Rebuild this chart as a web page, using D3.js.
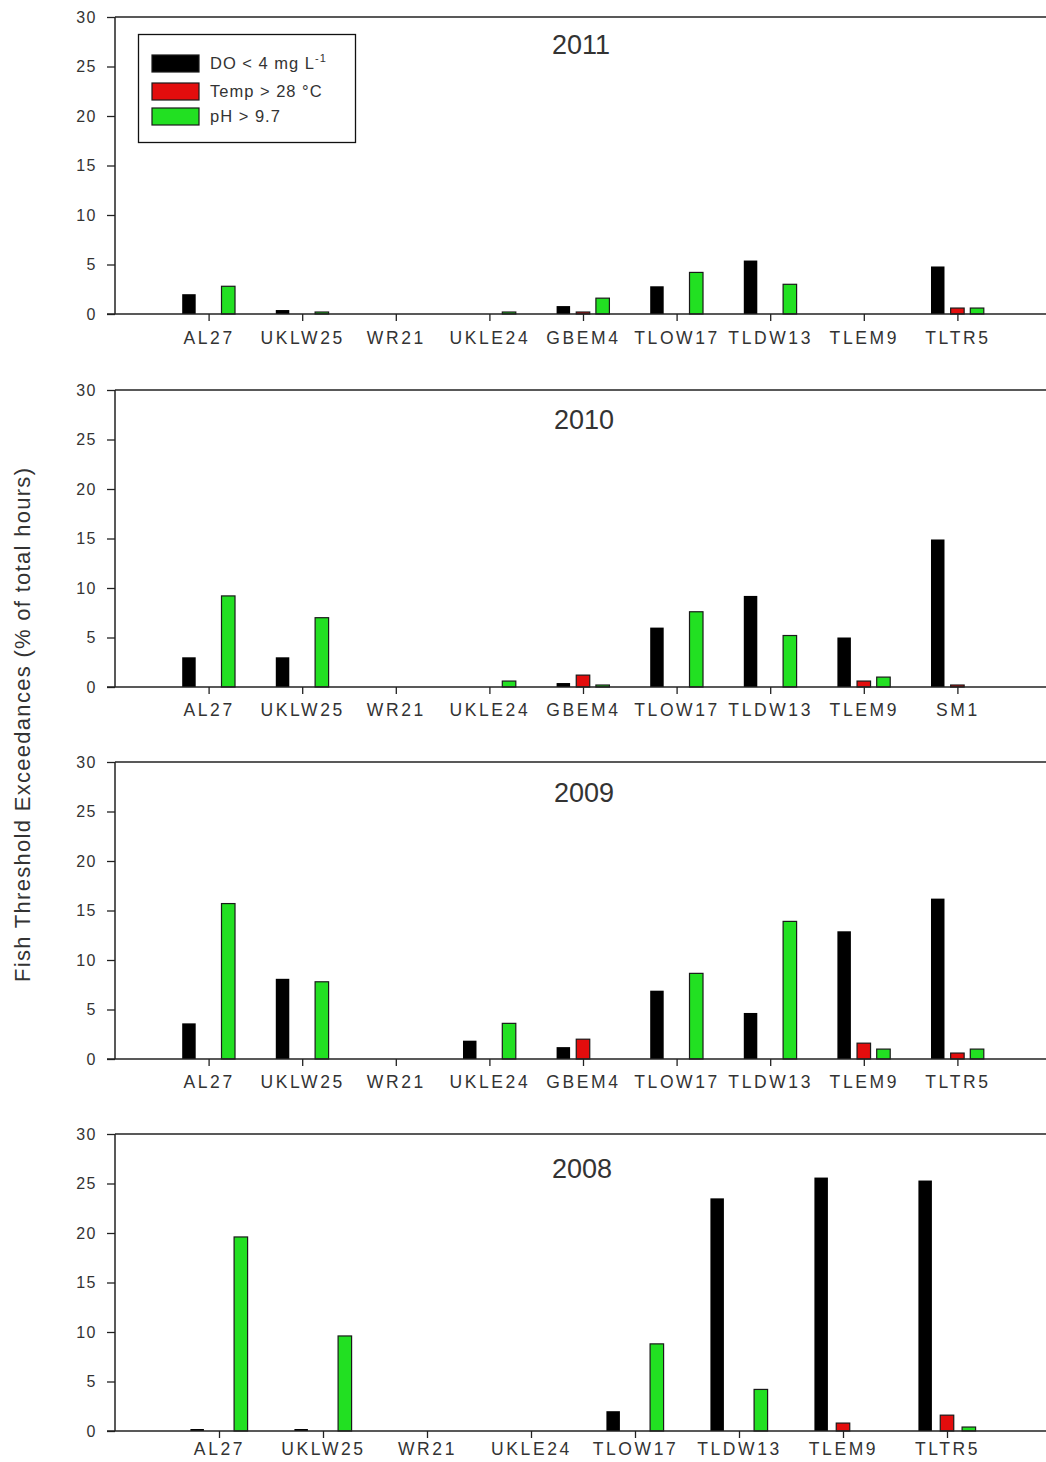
<!DOCTYPE html>
<html>
<head>
<meta charset="utf-8">
<script src="https://cdn.jsdelivr.net/npm/d3@7"></script>
<style>
body { margin: 0; background: #fff; }
text { font-family: Arial, "Liberation Sans", sans-serif; fill: #333; }
</style>
</head>
<body>
<script>
// Jahre (ein Panel pro Jahr)
var years = ["2011", "2010", "2009", "2008"];

// Messstellen pro Jahr
var sites2011 = ["AL27", "UKLW25", "WR21", "UKLE24", "GBEM4", "TLOW17", "TLDW13", "TLEM9", "TLTR5"];
var sites2010 = ["AL27", "UKLW25", "WR21", "UKLE24", "GBEM4", "TLOW17", "TLDW13", "TLEM9", "SM1"];
var sites2009 = ["AL27", "UKLW25", "WR21", "UKLE24", "GBEM4", "TLOW17", "TLDW13", "TLEM9", "TLTR5"];
var sites2008 = ["AL27", "UKLW25", "WR21", "UKLE24", "TLOW17", "TLDW13", "TLEM9", "TLTR5"];

// Werte (% der Stunden)
var do2011   = [2.0, 0.4, 0, 0, 0.8, 2.8, 5.4, 0, 4.8];
var temp2011 = [0, 0, 0, 0, 0.2, 0, 0, 0, 0.6];
var ph2011   = [2.8, 0.2, 0, 0.2, 1.6, 4.2, 3.0, 0, 0.6];

var do2010   = [3.0, 3.0, 0, 0, 0.4, 6.0, 9.2, 5.0, 14.9];
var temp2010 = [0, 0, 0, 0, 1.2, 0, 0, 0.6, 0.2];
var ph2010   = [9.2, 7.0, 0, 0.6, 0.2, 7.6, 5.2, 1.0, 0];

var do2009   = [3.6, 8.1, 0, 1.85, 1.2, 6.9, 4.65, 12.9, 16.2];
var temp2009 = [0, 0, 0, 0, 2.0, 0, 0, 1.6, 0.6];
var ph2009   = [15.7, 7.8, 0, 3.6, 0, 8.65, 13.9, 1.0, 1.0];

var do2008   = [0.2, 0.2, 0, 0, 2.0, 23.5, 25.6, 25.3];
var temp2008 = [0, 0, 0, 0, 0, 0, 0.8, 1.6];
var ph2008   = [19.6, 9.6, 0, 0, 8.8, 4.2, 0, 0.4];

var yTicks = [0, 5, 10, 15, 20, 25, 30];
var seriesKeys = ["do", "temp", "ph"];
var seriesLabels = ["DO < 4 mg L", "Temp > 28 \u00B0C", "pH > 9.7"];
var seriesColors = {do: "#000000", temp: "#e30d0d", ph: "#22e022"};

var panels = [
  {year: years[0], sites: sites2011, do: do2011, temp: temp2011, ph: ph2011, top: 17,   titleY: 54,   titleX: 581, pad: 11},
  {year: years[1], sites: sites2010, do: do2010, temp: temp2010, ph: ph2010, top: 390,  titleY: 429,  titleX: 584, pad: 10},
  {year: years[2], sites: sites2009, do: do2009, temp: temp2009, ph: ph2009, top: 762,  titleY: 802,  titleX: 584, pad: 10},
  {year: years[3], sites: sites2008, do: do2008, temp: temp2008, ph: ph2008, top: 1134, titleY: 1178, titleX: 582, pad: 5}
];

var width = 1046, height = 1462;
var left = 115, right = 1051, panelH = 297, barW = 13.5;

var svg = d3.select("body").append("svg")
  .attr("width", width)
  .attr("height", height);

panels.forEach(function (p, pi) {
  var g = svg.append("g");

  // Y Achse
  var yScale = d3.scaleLinear()
    .domain([0, 30])
    .range([p.top + panelH, p.top]);

  // X Achse: Stellen an 1..n
  var xScale = d3.scaleLinear()
    .domain([0, p.sites.length + 1])
    .range([left, right]);
  var step = xScale(1) - xScale(0);

  // Versatz der drei Balken innerhalb einer Gruppe
  var inner = d3.scalePoint()
    .domain(seriesKeys)
    .range([-0.21 * step, 0.21 * step]);

  // Balken
  seriesKeys.forEach(function (k) {
    var rows = p[k].map(function (v, i) { return {i: i, v: v}; })
      .filter(function (d) { return d.v > 0; });
    g.selectAll(".bar-" + k)
      .data(rows)
      .enter().append("rect")
      .attr("class", "bar-" + k)
      .attr("x", function (d) { return xScale(d.i + 1) + inner(k) - barW / 2; })
      .attr("y", function (d) { return yScale(d.v); })
      .attr("width", barW)
      .attr("height", function (d) { return yScale(0) - yScale(d.v); })
      .attr("fill", seriesColors[k])
      .attr("stroke", k == "do" ? "none" : "#1a1a1a")
      .attr("stroke-width", 1.2);
  });

  // linke Achse
  var yAxis = g.append("g")
    .attr("transform", "translate(" + left + ",0)")
    .call(d3.axisLeft(yScale).tickValues(yTicks).tickSize(8).tickPadding(10));
  yAxis.select(".domain").remove();
  yAxis.selectAll("line").attr("stroke", "#222").attr("stroke-width", 1.3);
  yAxis.selectAll("text")
    .style("font-size", "16px")
    .style("letter-spacing", "1.5px")
    .attr("fill", "#444");

  g.append("line")
    .attr("x1", left).attr("x2", left)
    .attr("y1", yScale(30)).attr("y2", yScale(0))
    .attr("stroke", "#222").attr("stroke-width", 1.5);

  // obere Linie
  g.append("line")
    .attr("x1", left).attr("x2", width)
    .attr("y1", yScale(30)).attr("y2", yScale(30))
    .attr("stroke", "#222").attr("stroke-width", 1.5);

  // untere Achse
  var xAxis = g.append("g")
    .attr("transform", "translate(0," + yScale(0) + ")")
    .call(d3.axisBottom(xScale)
      .tickValues(d3.range(1, p.sites.length + 1))
      .tickFormat(function (d) { return p.sites[d - 1]; })
      .tickSize(7).tickPadding(p.pad));
  xAxis.select(".domain").remove();
  xAxis.selectAll("line").attr("stroke", "#222").attr("stroke-width", 1.3);
  xAxis.selectAll("text")
    .style("font-size", "17.5px")
    .style("letter-spacing", "2.6px")
    .attr("fill", "#3a3a3a");

  g.append("line")
    .attr("x1", left - 8).attr("x2", width)
    .attr("y1", yScale(0)).attr("y2", yScale(0))
    .attr("stroke", "#222").attr("stroke-width", 1.5);

  // Jahr
  g.append("text")
    .attr("x", p.titleX)
    .attr("y", p.titleY)
    .attr("text-anchor", "middle")
    .style("font-size", "27px")
    .attr("fill", "#333")
    .text(p.year);

  // Legende nur im ersten Panel
  if (pi == 0) {
    var leg = g.append("g");
    leg.append("rect")
      .attr("x", 138.5).attr("y", 34.5)
      .attr("width", 217).attr("height", 108)
      .attr("fill", "#fff").attr("stroke", "#111").attr("stroke-width", 1.3);
    var rowY = [55, 83, 108];
    seriesKeys.forEach(function (k, i) {
      leg.append("rect")
        .attr("x", 152).attr("y", rowY[i])
        .attr("width", 47).attr("height", 17)
        .attr("fill", seriesColors[k])
        .attr("stroke", "#1a1a1a").attr("stroke-width", 1.2);
      var t = leg.append("text")
        .attr("x", 210).attr("y", rowY[i] + 14)
        .style("font-size", "16.5px")
        .style("letter-spacing", "1px")
        .attr("fill", "#333")
        .text(seriesLabels[i]);
      if (k == "do") {
        t.append("tspan")
          .attr("dy", -7)
          .style("font-size", "11px")
          .text("-1");
      }
    });
  }
});

// Y Beschriftung
svg.append("text")
  .attr("transform", "translate(30,725) rotate(-90)")
  .attr("text-anchor", "middle")
  .attr("textLength", 514)
  .attr("lengthAdjust", "spacing")
  .style("font-size", "22px")
  .attr("fill", "#333")
  .text("Fish Threshold Exceedances (% of total hours)");
</script>
</body>
</html>
